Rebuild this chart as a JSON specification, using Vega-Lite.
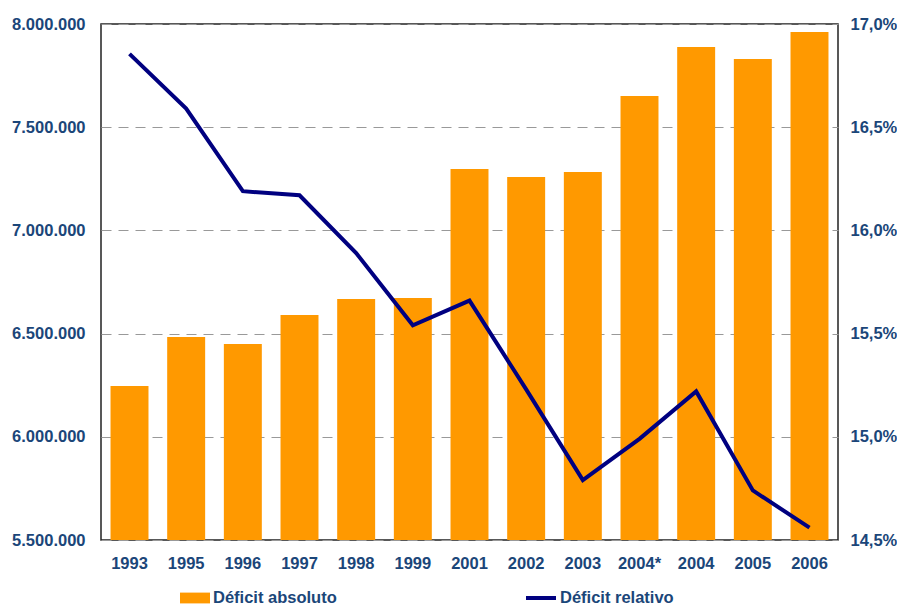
{
  "$schema": "https://vega.github.io/schema/vega-lite/v6.json",
  "width": 737,
  "height": 516,
  "autosize": {"type": "none"},
  "padding": {"left": 101, "top": 24, "right": 59, "bottom": 66},
  "background": "white",
  "config": {
    "locale": {"number": {"decimal": ",", "thousands": ".", "grouping": [3], "currency": ["", ""]}},
    "font": "Liberation Sans",
    "view": {"stroke": "#222", "strokeWidth": 1.5},
    "axis": {"labelFont": "Liberation Sans", "labelFontSize": 16.5, "labelFontWeight": "bold", "labelColor": "#1B4679", "ticks": false, "domain": false, "title": null},
    "legend": {"labelFont": "Liberation Sans", "labelFontSize": 16.5, "labelFontWeight": "bold", "labelColor": "#1B4679", "title": null, "padding": 0}
  },
  "data": {"values": [
    {"year": "1993", "abs": 6246000, "rel": 0.16855},
    {"year": "1995", "abs": 6483000, "rel": 0.1659},
    {"year": "1996", "abs": 6450000, "rel": 0.1619},
    {"year": "1997", "abs": 6590000, "rel": 0.1617},
    {"year": "1998", "abs": 6668000, "rel": 0.1589},
    {"year": "1999", "abs": 6672000, "rel": 0.1554},
    {"year": "2001", "abs": 7297000, "rel": 0.1566},
    {"year": "2002", "abs": 7259000, "rel": 0.1523},
    {"year": "2003", "abs": 7283000, "rel": 0.1479},
    {"year": "2004*", "abs": 7651000, "rel": 0.1499},
    {"year": "2004", "abs": 7889000, "rel": 0.1522},
    {"year": "2005", "abs": 7830000, "rel": 0.1474},
    {"year": "2006", "abs": 7961000, "rel": 0.1456}
  ]},
  "encoding": {
    "x": {"field": "year", "type": "nominal", "sort": null,
      "scale": {"paddingInner": 0.33, "paddingOuter": 0.168},
      "axis": {"labelAngle": 0, "labelPadding": 15}}
  },
  "layer": [
    {
      "mark": {"type": "bar", "clip": true},
      "encoding": {
        "y": {"field": "abs", "type": "quantitative",
          "scale": {"domain": [5500000, 8000000], "zero": false, "nice": false},
          "axis": {"values": [5500000, 6000000, 6500000, 7000000, 7500000, 8000000], "format": ",d", "labelPadding": 16,
            "grid": true, "gridColor": "#999", "gridDash": [10, 7], "gridWidth": 1.2}},
        "fill": {"datum": "Déficit absoluto", "scale": {"range": ["#FF9900"]},
          "legend": {"orient": "none", "legendX": 79, "legendY": 559, "symbolType": "M-1,-0.36H1V0.36H-1Z", "symbolSize": 900, "labelOffset": 3, "symbolStrokeWidth": 0}}
      }
    },
    {
      "mark": {"type": "line", "strokeWidth": 4, "color": "#000080"},
      "encoding": {
        "y": {"field": "rel", "type": "quantitative",
          "scale": {"domain": [0.145, 0.17], "zero": false, "nice": false},
          "axis": {"orient": "right", "values": [0.145, 0.15, 0.155, 0.16, 0.165, 0.17], "format": ".1%", "labelPadding": 12, "grid": false}},
        "stroke": {"datum": "Déficit relativo", "scale": {"range": ["#000080"]},
          "legend": {"orient": "none", "legendX": 423, "legendY": 557, "symbolType": "stroke", "symbolSize": 900, "symbolStrokeWidth": 4, "labelOffset": 2}}
      }
    }
  ],
  "resolve": {"scale": {"y": "independent"}}
}
